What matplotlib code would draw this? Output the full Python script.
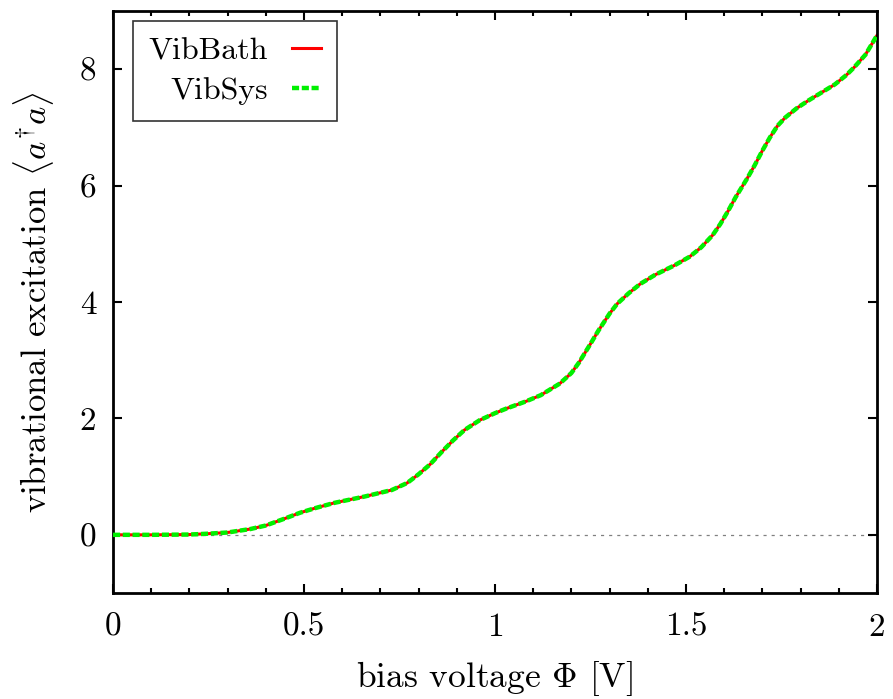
import matplotlib
matplotlib.use("Agg")
import matplotlib.pyplot as plt
from matplotlib.ticker import MultipleLocator

plt.rcParams['font.family'] = 'serif'
plt.rcParams['font.serif'] = ['cmr10']
plt.rcParams['mathtext.fontset'] = 'cm'
plt.rcParams['axes.formatter.use_mathtext'] = True

# bias voltage [V] and vibrational excitation
bias = [0.0, 0.1, 0.2, 0.25, 0.3, 0.36, 0.40, 0.45, 0.49, 0.53, 0.58, 0.66, 0.73,
        0.77, 0.80, 0.83, 0.86, 0.89, 0.92, 0.96, 1.00, 1.03, 1.08, 1.12, 1.17,
        1.20, 1.22, 1.25, 1.27, 1.30, 1.32, 1.35, 1.38, 1.42, 1.47, 1.51, 1.54,
        1.57, 1.59, 1.61, 1.63, 1.66, 1.68, 1.70, 1.72, 1.74, 1.76, 1.79, 1.82,
        1.86, 1.89, 1.92, 1.94, 1.97, 2.0]
vib_bath = [0.0, 0.0, 0.005, 0.02, 0.04, 0.10, 0.16, 0.28, 0.38, 0.46, 0.55, 0.66,
            0.77, 0.89, 1.04, 1.21, 1.42, 1.62, 1.80, 1.97, 2.09, 2.17, 2.29,
            2.40, 2.60, 2.78, 2.96, 3.28, 3.50, 3.80, 3.97, 4.15, 4.31, 4.47,
            4.63, 4.78, 4.94, 5.15, 5.34, 5.56, 5.80, 6.12, 6.35, 6.60, 6.83,
            7.03, 7.17, 7.33, 7.46, 7.62, 7.74, 7.90, 8.03, 8.25, 8.58]
vib_sys = list(vib_bath)  # both curves coincide

xticks = [0, 0.5, 1, 1.5, 2]
xtick_labels = ['0', '0.5', '1', '1.5', '2']
yticks = [0, 2, 4, 6, 8]

fig = plt.figure(figsize=(8.93, 6.99), dpi=100)
ax = fig.add_axes([0.1265, 0.1516, 0.8555, 0.8326])

ax.axhline(0, color='gray', lw=0.9, ls=(0, (2.5, 4)), zorder=1)
ax.plot(bias, vib_bath, color='red', lw=2.2, label='VibBath', zorder=2)
ax.plot(bias, vib_sys, color='#00f000', lw=3.2, ls=(0, (1.6, 0.6)),
        label='VibSys', zorder=3)

ax.set_xlim(0, 2)
ax.set_ylim(-1, 9)
ax.set_xticks(xticks)
ax.set_xticklabels(xtick_labels)
ax.xaxis.set_minor_locator(MultipleLocator(0.1))
ax.set_yticks(yticks)
ax.set_yticklabels([str(v) for v in yticks])

ax.tick_params(which='both', direction='in', top=True, right=True,
               width=1.5, labelsize=24)
ax.tick_params(axis='x', pad=14)
ax.tick_params(axis='y', pad=12)
ax.tick_params(which='major', length=6.5)
ax.tick_params(which='minor', length=3.3)
for s in ax.spines.values():
    s.set_linewidth(2)

ax.set_xlabel(r'bias voltage $\Phi$ [V]', fontsize=25.5, labelpad=12.5)
ax.set_ylabel(r'vibrational excitation $\langle a^{\dagger} a\rangle$',
              fontsize=25, labelpad=17)

leg = ax.legend(loc='upper left', markerfirst=False, fontsize=23, frameon=True,
                fancybox=False, edgecolor='black', handlelength=0.9,
                handletextpad=0.75, borderpad=0.5, labelspacing=0.35,
                borderaxespad=0, bbox_to_anchor=(0.026, 0.983))
leg.get_frame().set_linewidth(1.2)

fig.savefig('out.png', dpi=100)
